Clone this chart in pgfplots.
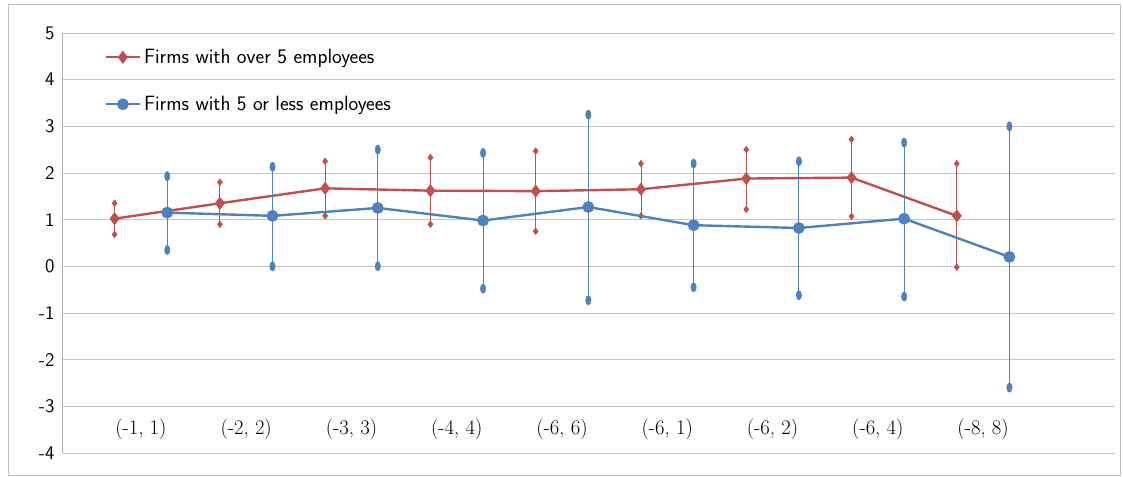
\documentclass[border=0pt]{standalone}
\usepackage{pgfplots}
\pgfplotsset{compat=1.18}
\definecolor{cr}{HTML}{C0504D}
\definecolor{cb}{HTML}{4F81BD}
\newcommand\fs{\fontsize{15.5}{18}\selectfont}
\begin{document}
\begin{tikzpicture}
\begin{axis}[
 scale only axis, width=789.75pt, height=315pt,
 xmin=-0.5, xmax=9.5, ymin=-4, ymax=5,
 ytick={-4,...,5},
 ymajorgrids, grid style={gray!45},
 axis x line=none, axis y line*=left, axis line style={gray!60},
 y axis line style={-}, tick style={draw=none},
 yticklabel style={font=\sffamily\Large, xshift=-2pt},
 /pgf/number format/assume math mode=true,
 legend style={draw=none, fill=none, at={(0.04,0.975)}, anchor=north west, font=\sffamily\fs, row sep=19pt, inner xsep=0pt},
 legend cell align=left,
 legend image code/.code={\draw[#1] (0pt,0pt) -- (26pt,0pt); \path[#1] plot coordinates {(13pt,0pt)};},
]
\draw[gray!50] (axis cs:-0.5,0) -- (axis cs:9.5,0);
\node[font=\fs] at (axis cs:0.25,-3.5) {(-1, 1)};
\node[font=\fs] at (axis cs:1.25,-3.5) {(-2, 2)};
\node[font=\fs] at (axis cs:2.25,-3.5) {(-3, 3)};
\node[font=\fs] at (axis cs:3.25,-3.5) {(-4, 4)};
\node[font=\fs] at (axis cs:4.25,-3.5) {(-6, 6)};
\node[font=\fs] at (axis cs:5.25,-3.5) {(-6, 1)};
\node[font=\fs] at (axis cs:6.25,-3.5) {(-6, 2)};
\node[font=\fs] at (axis cs:7.25,-3.5) {(-6, 4)};
\node[font=\fs] at (axis cs:8.25,-3.5) {(-8, 8)};
\addplot[cr, line width=1.8pt, mark=diamond*, mark size=3.5pt,
 error bars/.cd, y dir=both, y explicit, error bar style={cr, line width=0.7pt}, error mark=diamond*, error mark options={cr, mark size=2.5pt, rotate=90}]
 coordinates {
 (0,1.02) += (0,0.33) -= (0,0.34)
 (1,1.35) += (0,0.45) -= (0,0.45)
 (2,1.67) += (0,0.58) -= (0,0.59)
 (3,1.62) += (0,0.71) -= (0,0.72)
 (4,1.61) += (0,0.86) -= (0,0.86)
 (5,1.65) += (0,0.55) -= (0,0.57)
 (6,1.88) += (0,0.62) -= (0,0.66)
 (7,1.90) += (0,0.82) -= (0,0.83)
 (8,1.08) += (0,1.12) -= (0,1.10)
 };
\addlegendentry{Firms with over 5 employees}
\addplot[cb, line width=1.8pt, mark=*, mark size=3.5pt,
 error bars/.cd, y dir=both, y explicit, error bar style={cb, line width=0.7pt}, error mark=*, error mark options={cb, mark size=2.5pt, xscale=1.4, yscale=0.8}]
 coordinates {
 (0.5,1.15) += (0,0.78) -= (0,0.80)
 (1.5,1.08) += (0,1.05) -= (0,1.08)
 (2.5,1.25) += (0,1.25) -= (0,1.25)
 (3.5,0.98) += (0,1.45) -= (0,1.46)
 (4.5,1.27) += (0,1.98) -= (0,2.00)
 (5.5,0.88) += (0,1.32) -= (0,1.33)
 (6.5,0.82) += (0,1.43) -= (0,1.44)
 (7.5,1.02) += (0,1.63) -= (0,1.67)
 (8.5,0.20) += (0,2.80) -= (0,2.80)
 };
\addlegendentry{Firms with 5 or less employees}
\end{axis}
\draw[gray!50] ([xshift=-40.5pt,yshift=-16.5pt]current axis.south west) rectangle ([xshift=4pt,yshift=21.75pt]current axis.north east);
\path ([xshift=-46.5pt,yshift=-18pt]current axis.south west) rectangle ([xshift=6.25pt,yshift=24.75pt]current axis.north east);
\end{tikzpicture}
\end{document}
